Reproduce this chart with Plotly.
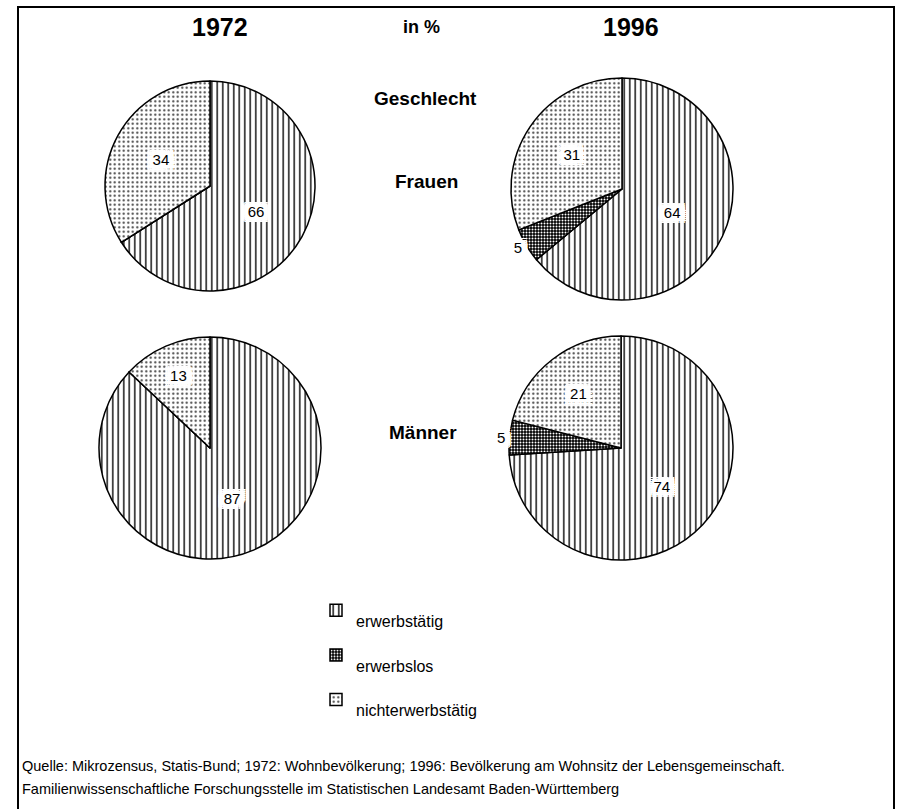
import plotly.graph_objects as go

W, H = 898, 809

categories = ['erwerbstätig', 'erwerbslos', 'nichterwerbstätig']
frauen_1972 = [66, 0, 34]
frauen_1996 = [64, 5, 31]
maenner_1972 = [87, 0, 13]
maenner_1996 = [74, 5, 21]


def px(x):
    return x / W


def py(y):
    return 1 - y / H


# pixel centre / radius of each pie
pies = [
    (frauen_1996, 622, 189, 111, True),
    (frauen_1972, 210, 186, 105, False),
    (maenner_1972, 210, 448, 111, False),
    (maenner_1996, 621, 448, 112, False),
]

pattern = dict(
    shape=['|', '.', '.'],
    fgcolor=['black', 'white', '#3a3a3a'],
    bgcolor=['white', 'black', 'white'],
    size=[5.5, 3, 4.5],
    solidity=[0.25, 0.35, 0.18],
)

# white box behind the slice numbers
halo = ', '.join('white %dpx %dpx 0' % (dx, dy)
                 for dx in range(-6, 7, 2) for dy in range(-5, 6, 2))

fig = go.Figure()
for vals, cx, cy, r, show in pies:
    fig.add_trace(go.Pie(
        values=vals,
        labels=['<br>' + c for c in categories],
        text=[str(v) if v else '' for v in vals],
        textinfo='text',
        textposition=['inside', 'outside', 'inside'],
        insidetextorientation='horizontal',
        textfont=dict(family='Liberation Sans, Arial', size=15, color='black', shadow=halo),
        outsidetextfont=dict(family='Liberation Sans, Arial', size=15, color='black'),
        marker=dict(pattern=pattern, line=dict(color='black', width=1.5)),
        sort=False,
        direction='clockwise',
        rotation=0,
        domain=dict(x=[px(cx - r), px(cx + r)], y=[py(cy + r), py(cy - r)]),
        showlegend=show,
        hovertemplate='%{value}%<extra></extra>',
    ))


def label(txt, x, y, size):
    fig.add_annotation(
        text='<b>%s</b>' % txt, x=px(x), y=py(y), xref='paper', yref='paper',
        xanchor='center', yanchor='middle', showarrow=False,
        font=dict(family='Liberation Sans, Arial', size=size, color='black'),
    )


label('1972', 220, 27, 25)
label('in %', 421, 27, 18)
label('1996', 631, 27, 25)
label('Geschlecht', 425, 99, 19)
label('Frauen', 426, 181, 19)
label('Männer', 423, 432, 19)

footer = ['Quelle: Mikrozensus, Statis-Bund; 1972: Wohnbevölkerung; 1996: Bevölkerung am Wohnsitz der Lebensgemeinschaft.',
          'Familienwissenschaftliche Forschungsstelle im Statistischen Landesamt Baden-Württemberg']
for i, line in enumerate(footer):
    fig.add_annotation(
        text=line, x=px(20), y=py(766 + 23 * i), xref='paper', yref='paper',
        xanchor='left', yanchor='middle', showarrow=False,
        font=dict(family='Liberation Sans, Arial', size=14.5, color='black'),
    )

fig.add_shape(type='rect', xref='paper', yref='paper',
              x0=px(18), x1=px(894), y0=-0.02, y1=py(7),
              line=dict(color='black', width=2))

fig.update_layout(
    width=W, height=H,
    margin=dict(l=0, r=0, t=0, b=0),
    paper_bgcolor='white',
    plot_bgcolor='white',
    legend=dict(
        x=px(316), y=py(583), xanchor='left', yanchor='top',
        valign='middle', font=dict(family='Liberation Sans, Arial', size=16, color='black'),
        bgcolor='rgba(0,0,0,0)',
    ),
)

fig.write_html('out.html', config={'displayModeBar': False},
               post_script="document.body.style.margin='0';document.body.style.overflow='hidden';")
